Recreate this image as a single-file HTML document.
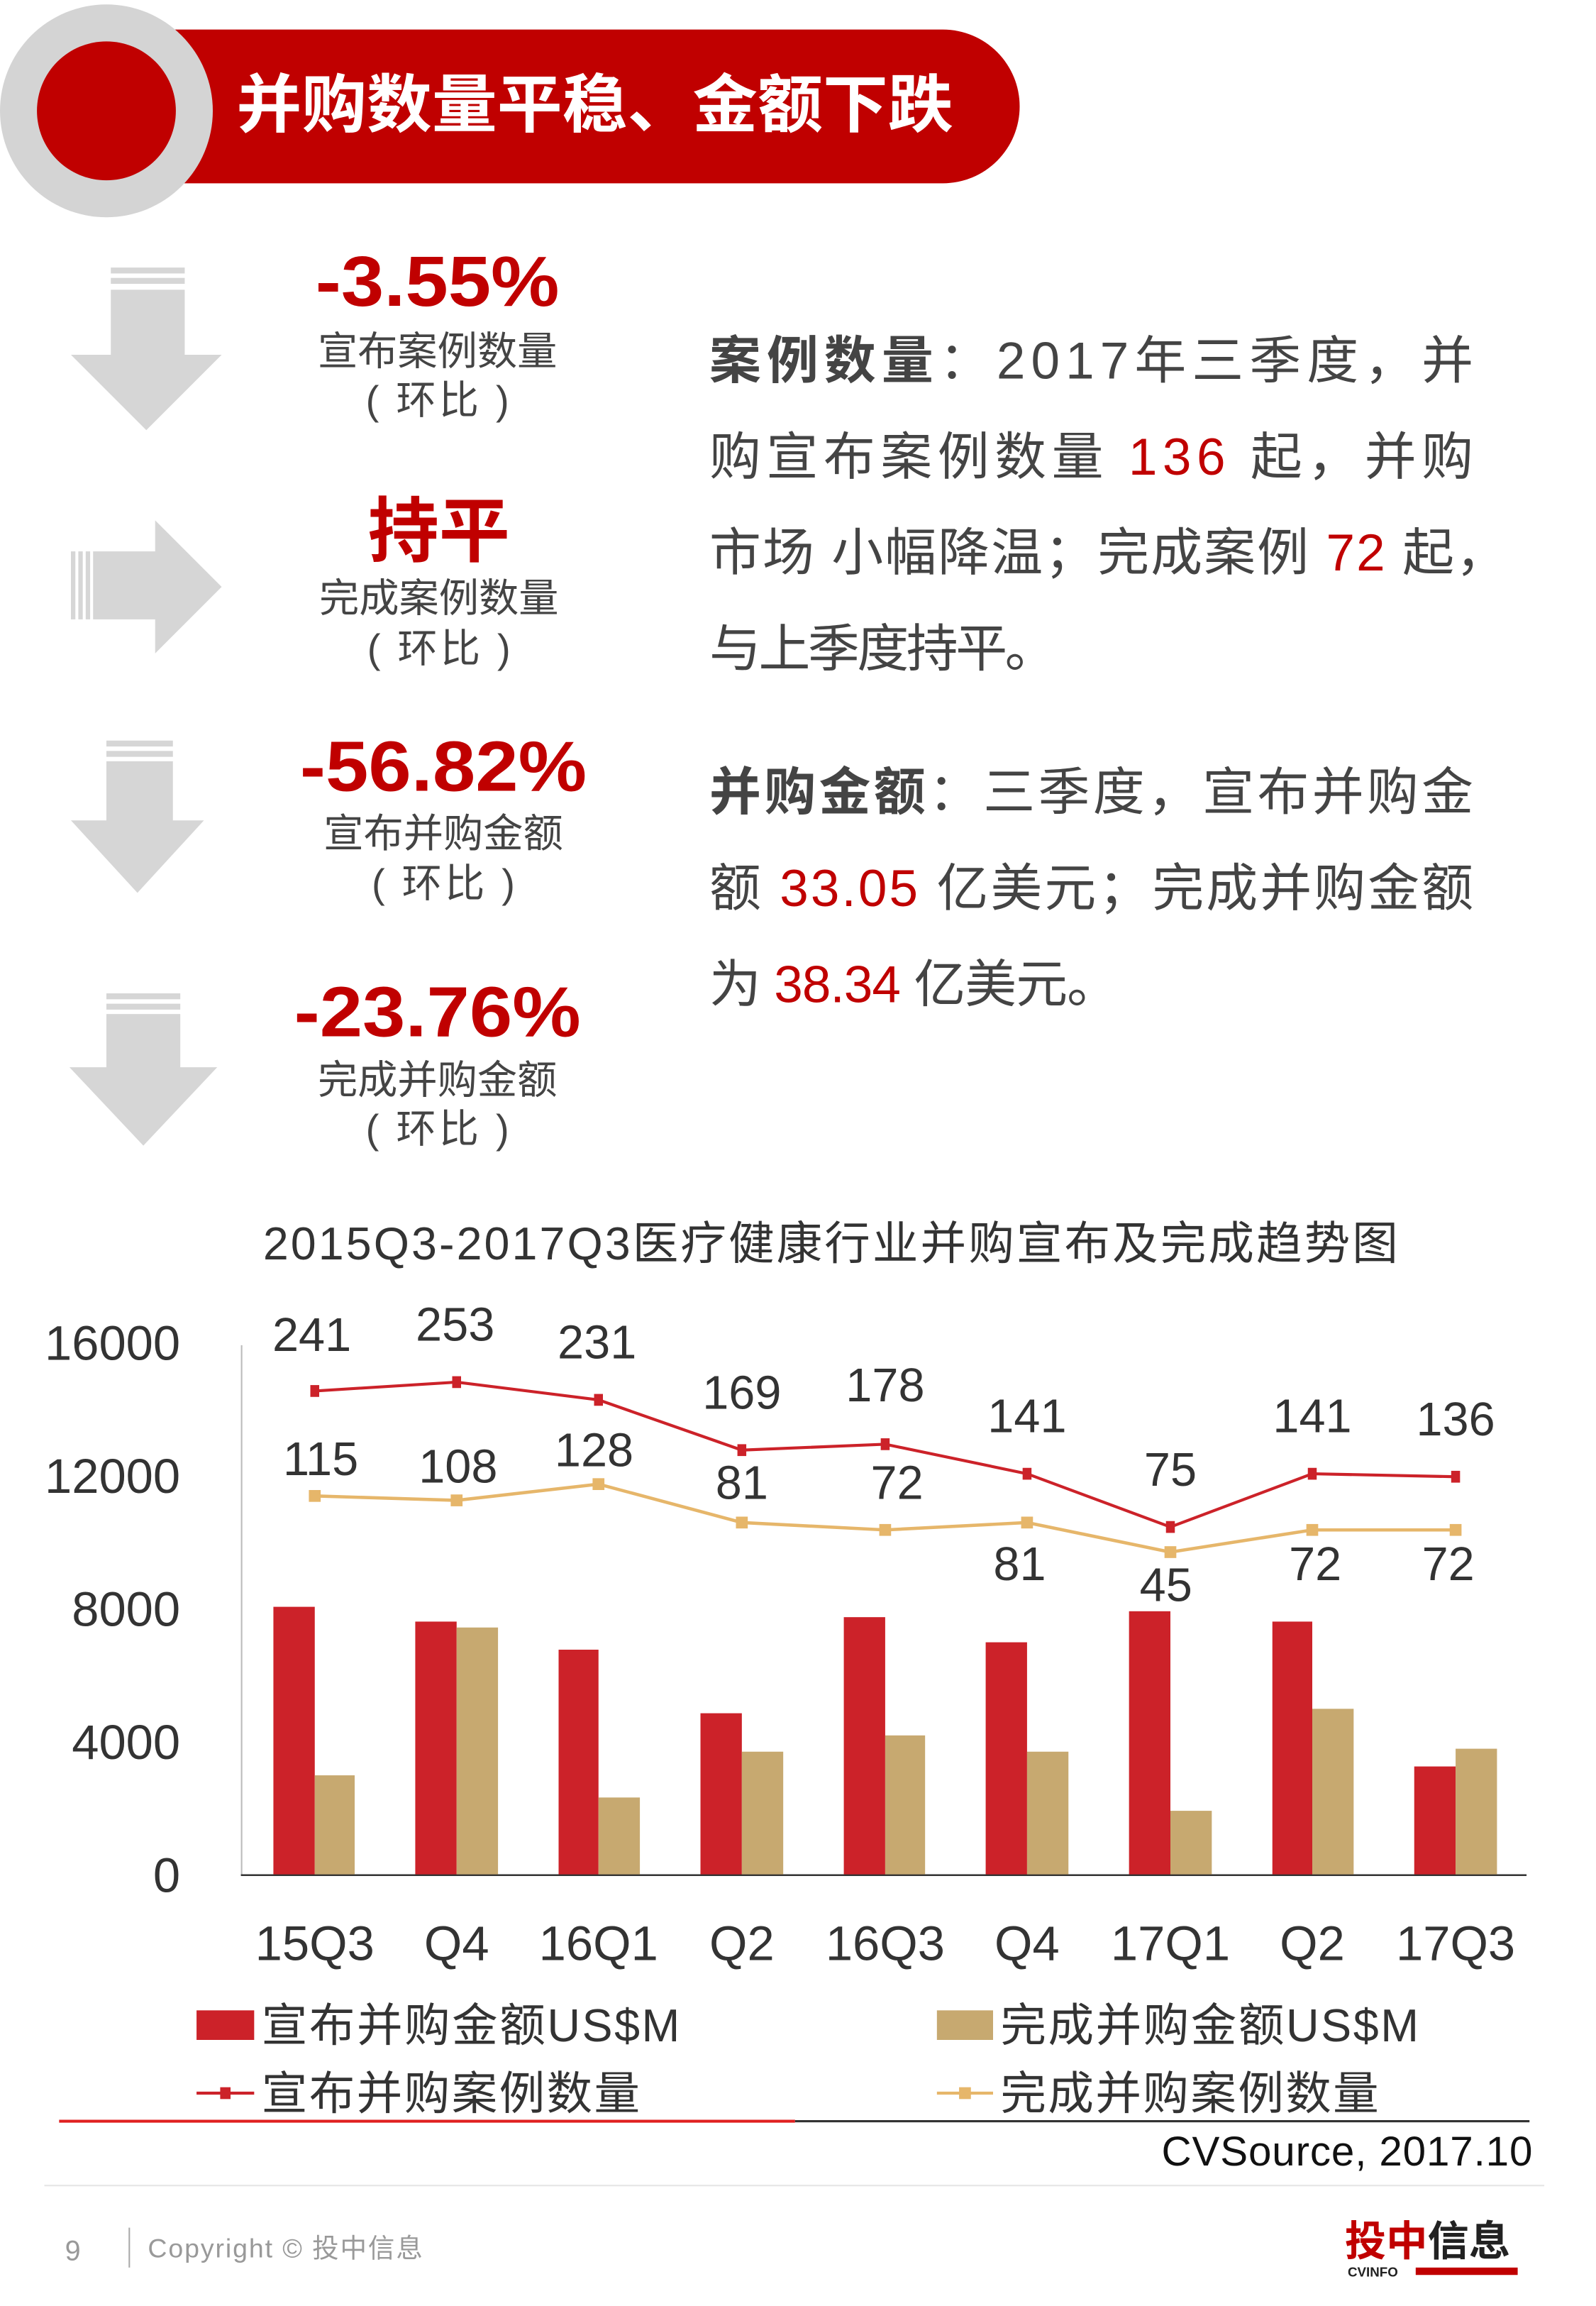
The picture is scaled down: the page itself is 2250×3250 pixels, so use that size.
<!DOCTYPE html>
<html><head><meta charset="utf-8"><style>
html,body{margin:0;padding:0;background:#fff}
svg{display:block}
text{font-family:"Liberation Sans","Noto Sans CJK SC",sans-serif}
</style></head><body>
<svg width="2250" height="3250" viewBox="0 0 1080 1560" preserveAspectRatio="none" xmlns="http://www.w3.org/2000/svg">
<!-- header -->
<path d="M100 20 H638 A52 52 0 0 1 638 124 H100 Z" fill="#c00000"/>
<circle cx="72" cy="75" r="72" fill="#d4d4d4"/>
<circle cx="72" cy="75" r="47" fill="#c00000"/>
<text x="160" y="86" font-size="43" font-weight="bold" fill="#fff" textLength="485" lengthAdjust="spacingAndGlyphs">并购数量平稳、金额下跌</text>
<!-- arrows -->
<g fill="#d6d6d6">
<rect x="75" y="181" width="50" height="4"/><rect x="75" y="188" width="50" height="4"/>
<rect x="75" y="196" width="50" height="46"/><polygon points="48,240 150,240 99,291"/>
<rect x="48" y="373" width="3" height="46"/><rect x="53" y="373" width="3" height="46"/><rect x="58" y="373" width="3" height="46"/>
<rect x="63" y="373" width="44" height="46"/><polygon points="105,352 150,397 105,442"/>
<rect x="72" y="501" width="45" height="4"/><rect x="72" y="508" width="45" height="4"/>
<rect x="72" y="515" width="45" height="42"/><polygon points="48,555 138,555 93,604"/>
<rect x="72" y="672" width="50" height="4"/><rect x="72" y="679" width="50" height="4"/>
<rect x="72" y="686" width="50" height="38"/><polygon points="47,722 147,722 97,775"/>
</g>
<!-- stats -->
<g text-anchor="middle" font-weight="bold" fill="#c00000" font-size="48">
<text x="296" y="207" textLength="165" lengthAdjust="spacingAndGlyphs">-3.55%</text>
<text x="297" y="376">持平</text>
<text x="300" y="535" textLength="194" lengthAdjust="spacingAndGlyphs">-56.82%</text>
<text x="296" y="701" textLength="194" lengthAdjust="spacingAndGlyphs">-23.76%</text>
</g>
<g text-anchor="middle" fill="#444" font-size="27">
<text x="296" y="247">宣布案例数量</text><text x="296" y="280" textLength="97">( 环比 )</text>
<text x="297" y="414">完成案例数量</text><text x="297" y="448" textLength="97">( 环比 )</text>
<text x="300" y="573">宣布并购金额</text><text x="300" y="607" textLength="97">( 环比 )</text>
<text x="296" y="740">完成并购金额</text><text x="296" y="773" textLength="97">( 环比 )</text>
</g>
<!-- right text -->
<g font-size="35" fill="#444">
<text x="480" y="256" textLength="517"><tspan font-weight="bold">案例数量</tspan>：2017年三季度，并</text>
<text x="480" y="321" textLength="517">购宣布案例数量 <tspan fill="#c00000">136</tspan> 起，并购</text>
<text x="480" y="386" textLength="540">市场 小幅降温；完成案例 <tspan fill="#c00000">72</tspan> 起，</text>
<text x="480" y="451" textLength="235">与上季度持平。</text>
<text x="480" y="548" textLength="517"><tspan font-weight="bold">并购金额</tspan>：三季度，宣布并购金</text>
<text x="480" y="613" textLength="517">额 <tspan fill="#c00000">33.05</tspan> 亿美元；完成并购金额</text>
<text x="480" y="678" textLength="277">为 <tspan fill="#c00000">38.34</tspan> 亿美元。</text>
</g>
<!-- chart title -->
<text x="178" y="852" font-size="31" fill="#333" textLength="768">2015Q3-2017Q3医疗健康行业并购宣布及完成趋势图</text>
<!-- axes -->
<line x1="163.5" y1="910" x2="163.5" y2="1268" stroke="#bbb" stroke-width="1"/>
<line x1="163" y1="1268.5" x2="1033" y2="1268.5" stroke="#333" stroke-width="1.2"/>
<g text-anchor="end" font-size="33" fill="#333">
<text x="122" y="920">16000</text><text x="122" y="1010">12000</text><text x="122" y="1100">8000</text><text x="122" y="1190">4000</text><text x="122" y="1280">0</text>
</g>
<!-- bars -->
<g fill="#cc2229">
<rect x="185" y="1087" width="28" height="181"/>
<rect x="281" y="1097" width="28" height="171"/>
<rect x="378" y="1116" width="27" height="152"/>
<rect x="474" y="1159" width="28" height="109"/>
<rect x="571" y="1094" width="28" height="174"/>
<rect x="667" y="1111" width="28" height="157"/>
<rect x="764" y="1090" width="28" height="178"/>
<rect x="861" y="1097" width="27" height="171"/>
<rect x="957" y="1195" width="28" height="73"/>
</g>
<g fill="#c7a970">
<rect x="213" y="1201" width="27" height="67"/>
<rect x="309" y="1101" width="28" height="167"/>
<rect x="405" y="1216" width="28" height="52"/>
<rect x="502" y="1185" width="28" height="83"/>
<rect x="599" y="1174" width="27" height="94"/>
<rect x="695" y="1185" width="28" height="83"/>
<rect x="792" y="1225" width="28" height="43"/>
<rect x="888" y="1156" width="28" height="112"/>
<rect x="985" y="1183" width="28" height="85"/>
</g>
<!-- lines -->
<polyline fill="none" stroke="#e6b66a" stroke-width="2.2" points="213,1012 309,1015 405,1004 502,1030 599,1035 695,1030 792,1050 888,1035 985,1035"/>
<g fill="#e6b66a">
<rect x="209" y="1008" width="8" height="8"/><rect x="305" y="1011" width="8" height="8"/><rect x="401" y="1000" width="8" height="8"/><rect x="498" y="1026" width="8" height="8"/><rect x="595" y="1031" width="8" height="8"/><rect x="691" y="1026" width="8" height="8"/><rect x="788" y="1046" width="8" height="8"/><rect x="884" y="1031" width="8" height="8"/><rect x="981" y="1031" width="8" height="8"/>
</g>
<polyline fill="none" stroke="#cc2229" stroke-width="2" points="213,941 309,935 405,947 502,981 599,977 695,997 792,1033 888,997 985,999"/>
<g fill="#cc2229">
<rect x="210" y="937" width="6" height="8"/><rect x="306" y="931" width="6" height="8"/><rect x="402" y="943" width="6" height="8"/><rect x="499" y="977" width="6" height="8"/><rect x="596" y="973" width="6" height="8"/><rect x="692" y="993" width="6" height="8"/><rect x="789" y="1029" width="6" height="8"/><rect x="885" y="993" width="6" height="8"/><rect x="982" y="995" width="6" height="8"/>
</g>
<!-- data labels -->
<g text-anchor="middle" font-size="32" fill="#333">
<text x="211" y="914">241</text><text x="308" y="907">253</text><text x="404" y="919">231</text><text x="502" y="953">169</text><text x="599" y="948">178</text><text x="695" y="969">141</text><text x="792" y="1005">75</text><text x="888" y="969">141</text><text x="985" y="971">136</text>
<text x="217" y="998">115</text><text x="310" y="1003">108</text><text x="402" y="992">128</text><text x="502" y="1014">81</text><text x="607" y="1014">72</text><text x="690" y="1069">81</text><text x="789" y="1083">45</text><text x="890" y="1069">72</text><text x="980" y="1069">72</text>
</g>
<!-- x labels -->
<g text-anchor="middle" font-size="33" fill="#333">
<text x="213" y="1326">15Q3</text><text x="309" y="1326">Q4</text><text x="405" y="1326">16Q1</text><text x="502" y="1326">Q2</text><text x="599" y="1326">16Q3</text><text x="695" y="1326">Q4</text><text x="792" y="1326">17Q1</text><text x="888" y="1326">Q2</text><text x="985" y="1326">17Q3</text>
</g>
<!-- legend -->
<rect x="133" y="1360" width="39" height="20" fill="#cc2229"/>
<text x="177" y="1381" font-size="31" fill="#333" textLength="283">宣布并购金额US$M</text>
<rect x="634" y="1360" width="38" height="20" fill="#c7a970"/>
<text x="677" y="1381" font-size="31" fill="#333" textLength="283">完成并购金额US$M</text>
<line x1="133" y1="1416" x2="172" y2="1416" stroke="#cc2229" stroke-width="2"/>
<rect x="149" y="1412" width="7" height="8" fill="#cc2229"/>
<text x="177" y="1427" font-size="31" fill="#333" textLength="256">宣布并购案例数量</text>
<line x1="634" y1="1416" x2="672" y2="1416" stroke="#e6b66a" stroke-width="2"/>
<rect x="649" y="1412" width="8" height="8" fill="#e6b66a"/>
<text x="677" y="1427" font-size="31" fill="#333" textLength="256">完成并购案例数量</text>
<!-- bottom -->
<line x1="40" y1="1435" x2="538" y2="1435" stroke="#e02020" stroke-width="2"/>
<line x1="538" y1="1435" x2="1035" y2="1435" stroke="#333" stroke-width="1.5"/>
<text x="1037" y="1465" text-anchor="end" font-size="28" fill="#111" textLength="251">CVSource, 2017.10</text>
<line x1="30" y1="1478.5" x2="1045" y2="1478.5" stroke="#e6e6e6" stroke-width="1"/>
<text x="44" y="1529" font-size="19" fill="#999">9</text>
<line x1="87.5" y1="1507" x2="87.5" y2="1534" stroke="#aaa" stroke-width="1"/>
<text x="100" y="1527" font-size="18" fill="#999" textLength="186">Copyright © 投中信息</text>
<text x="910" y="1526" font-size="28" font-weight="bold" fill="#c00000">投中</text>
<text x="966" y="1526" font-size="28" font-weight="bold" fill="#222">信息</text>
<text x="912" y="1540" font-size="9" font-weight="bold" fill="#222">CVINFO</text>
<rect x="958" y="1534" width="69" height="5" fill="#c00000"/>
</svg>
</body></html>
